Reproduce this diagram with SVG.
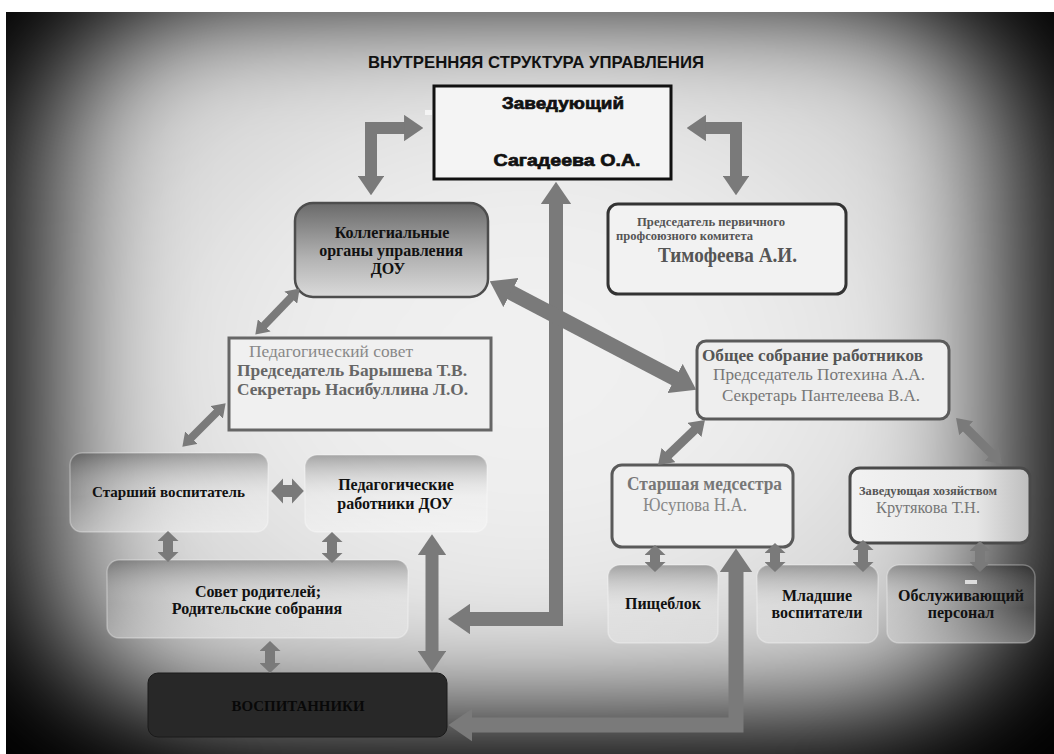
<svg xmlns="http://www.w3.org/2000/svg" width="1054" height="754" viewBox="0 0 1054 754">
<defs>
<clipPath id="area"><rect x="6" y="12" width="1048" height="742"/></clipPath>
<filter id="vblur" filterUnits="userSpaceOnUse" x="-300" y="-300" width="1700" height="1400">
<feGaussianBlur stdDeviation="68 55"/>
</filter>
<radialGradient id="inner" cx="0.5" cy="0.5" r="0.6">
<stop offset="0" stop-color="#f3f3f3"/>
<stop offset="0.45" stop-color="#ececec"/>
<stop offset="1" stop-color="#c8c8c8"/>
</radialGradient>
<linearGradient id="gBox" x1="0" y1="0" x2="0" y2="1">
<stop offset="0" stop-color="#000" stop-opacity="0.3"/>
<stop offset="0.55" stop-color="#fff" stop-opacity="0.1"/>
<stop offset="1" stop-color="#fff" stop-opacity="0.35"/>
</linearGradient>
<linearGradient id="gKol" x1="0" y1="0" x2="0" y2="1">
<stop offset="0" stop-color="#6a6a6a"/>
<stop offset="0.6" stop-color="#b4b4b4"/>
<stop offset="1" stop-color="#dadada"/>
</linearGradient>
<linearGradient id="gHoz" x1="0" y1="0" x2="1" y2="0">
<stop offset="0" stop-color="#f2f2f2"/>
<stop offset="0.7" stop-color="#e6e6e6"/>
<stop offset="1" stop-color="#bdbdbd"/>
</linearGradient>
<marker id="ah" viewBox="0 0 10 10" refX="1" refY="5" markerUnits="strokeWidth" markerWidth="1.6" markerHeight="2.2" orient="auto-start-reverse" preserveAspectRatio="none">
<path d="M0,0 L10,5 L0,10 z" fill="#7a7a7a"/>
</marker>
<marker id="ahs" viewBox="0 0 10 10" refX="1" refY="5" markerUnits="strokeWidth" markerWidth="1.0" markerHeight="2.1" orient="auto-start-reverse" preserveAspectRatio="none">
<path d="M0,0 L10,5 L0,10 z" fill="#7a7a7a"/>
</marker>
</defs>
<style>
.serif{font-family:"Liberation Serif","DejaVu Serif",serif}
.b{font-weight:bold}
.soft{fill:url(#gBox);stroke:#ffffff;stroke-opacity:0.3;stroke-width:1.5}
.wbox{stroke-width:3}
.arr{fill:none;stroke:#7a7a7a;stroke-linejoin:miter}
.heavy{font-family:"Liberation Sans",Arial,sans-serif;font-weight:bold;fill:#111;stroke:#111;stroke-width:0.7}
</style>
<rect x="0" y="0" width="1054" height="754" fill="#ffffff"/>
<g clip-path="url(#area)">
<rect x="6" y="12" width="1048" height="742" fill="#000"/>
<rect x="48" y="1" width="961" height="715" rx="160" fill="url(#inner)" filter="url(#vblur)"/>
</g>
<text x="536" y="68" text-anchor="middle" font-family="'Liberation Sans',Arial,sans-serif" font-weight="bold" font-size="17" textLength="336" lengthAdjust="spacingAndGlyphs" fill="#111">ВНУТРЕННЯЯ СТРУКТУРА УПРАВЛЕНИЯ</text>

<g id="zav">
<rect x="434" y="86" width="237" height="93" fill="#f4f4f4" stroke="#111" stroke-width="3"/>
<text class="heavy" x="563" y="109" text-anchor="middle" font-size="17" textLength="122" lengthAdjust="spacingAndGlyphs">Заведующий</text>
<text class="heavy" x="567" y="166" text-anchor="middle" font-size="17" textLength="147" lengthAdjust="spacingAndGlyphs">Сагадеева О.А.</text>
</g>
<rect x="425" y="110" width="7" height="5" fill="#f4f4f4"/>

<g id="kolleg">
<rect x="295" y="203" width="193" height="94" rx="18" fill="url(#gKol)" stroke="#4d4d4d" stroke-width="2.5"/>
<text class="serif b" x="392" y="238" text-anchor="middle" font-size="16" fill="#111">Коллегиальные</text>
<text class="serif b" x="391" y="256" text-anchor="middle" font-size="16" fill="#111">органы управления</text>
<text class="serif b" x="388" y="274" text-anchor="middle" font-size="16" fill="#111">ДОУ</text>
</g>

<g id="profkom">
<rect x="608" y="204" width="238" height="90" rx="10" fill="#f2f2f2" stroke="#333" class="wbox"/>
<text class="serif b" x="637" y="226" font-size="12.5" fill="#555" textLength="148" lengthAdjust="spacingAndGlyphs">Председатель первичного</text>
<text class="serif b" x="616" y="240" font-size="12.5" fill="#555" textLength="137" lengthAdjust="spacingAndGlyphs">профсоюзного комитета</text>
<text class="serif b" x="658" y="262" font-size="20" fill="#555" textLength="139" lengthAdjust="spacingAndGlyphs">Тимофеева А.И.</text>
</g>

<g id="pedsovet">
<rect x="229" y="338" width="262" height="92" fill="#f0f0f0" stroke="#666" class="wbox"/>
<text class="serif" x="249" y="357" font-size="17" fill="#888" textLength="164" lengthAdjust="spacingAndGlyphs">Педагогический совет</text>
<text class="serif b" x="237" y="376" font-size="17" fill="#666" textLength="230" lengthAdjust="spacingAndGlyphs">Председатель Барышева Т.В.</text>
<text class="serif b" x="237" y="395" font-size="17" fill="#666" textLength="231" lengthAdjust="spacingAndGlyphs">Секретарь Насибуллина Л.О.</text>
</g>

<g id="obshee">
<rect x="697" y="341" width="252" height="78" rx="9" fill="#eeeeee" stroke="#5a5a5a" class="wbox"/>
<text class="serif b" x="702" y="361" font-size="17" fill="#555" textLength="221" lengthAdjust="spacingAndGlyphs">Общее собрание работников</text>
<text class="serif" x="713" y="380" font-size="17" fill="#777" textLength="212" lengthAdjust="spacingAndGlyphs">Председатель Потехина А.А.</text>
<text class="serif" x="722" y="401" font-size="17" fill="#777" textLength="198" lengthAdjust="spacingAndGlyphs">Секретарь Пантелеева В.А.</text>
</g>

<g id="starsh">
<rect x="70" y="453" width="198" height="79" rx="12" class="soft"/>
<text class="serif b" x="92" y="497" font-size="15.5" fill="#111" textLength="153" lengthAdjust="spacingAndGlyphs">Старший воспитатель</text>
</g>

<g id="pedrab">
<rect x="305" y="455" width="182" height="77" rx="12" class="soft"/>
<text class="serif b" x="396" y="490" text-anchor="middle" font-size="16" fill="#111">Педагогические</text>
<text class="serif b" x="395" y="509" text-anchor="middle" font-size="16" fill="#111">работники ДОУ</text>
</g>

<g id="sovet">
<rect x="107" y="560" width="301" height="78" rx="12" class="soft"/>
<text class="serif b" x="258" y="597" text-anchor="middle" font-size="16" fill="#111">Совет родителей;</text>
<text class="serif b" x="257" y="614" text-anchor="middle" font-size="16" fill="#111">Родительские собрания</text>
</g>

<g id="vosp">
<rect x="148" y="673" width="299" height="64" rx="10" fill="#282828" stroke="#1a1a1a" stroke-width="1"/>
<text class="serif b" x="298" y="711" text-anchor="middle" font-size="15" fill="#080808" textLength="133" lengthAdjust="spacingAndGlyphs">ВОСПИТАННИКИ</text>
</g>

<g id="medsestra">
<rect x="612" y="465" width="181" height="82" rx="10" fill="#f0f0f0" stroke="#5a5a5a" class="wbox"/>
<text class="serif b" x="627" y="490" font-size="18" fill="#777" textLength="155" lengthAdjust="spacingAndGlyphs">Старшая медсестра</text>
<text class="serif" x="643" y="511" font-size="18" fill="#888" textLength="104" lengthAdjust="spacingAndGlyphs">Юсупова Н.А.</text>
</g>

<g id="hoz">
<rect x="850" y="468" width="180" height="75" rx="10" fill="url(#gHoz)" stroke="#4a4a4a" class="wbox"/>
<text class="serif b" x="859" y="495" font-size="12.5" fill="#555" textLength="138" lengthAdjust="spacingAndGlyphs">Заведующая хозяйством</text>
<text class="serif" x="876" y="513" font-size="17" fill="#777" textLength="104" lengthAdjust="spacingAndGlyphs">Крутякова Т.Н.</text>
</g>

<g id="pishe">
<rect x="608" y="565" width="110" height="78" rx="12" class="soft"/>
<text class="serif b" x="663" y="609" text-anchor="middle" font-size="16" fill="#111">Пищеблок</text>
</g>

<g id="mlad">
<rect x="757" y="565" width="121" height="78" rx="12" class="soft"/>
<text class="serif b" x="817" y="601" text-anchor="middle" font-size="16" fill="#111">Младшие</text>
<text class="serif b" x="817" y="618" text-anchor="middle" font-size="16" fill="#111">воспитатели</text>
</g>

<g id="obsl">
<rect x="887" y="565" width="148" height="78" rx="12" class="soft"/>
<rect x="965" y="580" width="12" height="4" fill="#dddddd"/>
<text class="serif b" x="961" y="601" text-anchor="middle" font-size="16" fill="#111">Обслуживающий</text>
<text class="serif b" x="961" y="618" text-anchor="middle" font-size="16" fill="#111">персонал</text>
</g>

<g id="connectors">
<path class="arr" d="M371,178 L371,128 L406,128" stroke-width="12" marker-start="url(#ah)" marker-end="url(#ah)"/>
<path class="arr" d="M704,128 L736,128 L736,178" stroke-width="12" marker-start="url(#ah)" marker-end="url(#ah)"/>
<path class="arr" d="M556,202 L556,619 L468,619" stroke-width="14" marker-start="url(#ah)" marker-end="url(#ah)"/>
<path class="arr" d="M736,570 L736,725 L470,725" stroke-width="15" marker-start="url(#ah)" marker-end="url(#ah)"/>
<path class="arr" d="M432,553 L432,653" stroke-width="13" marker-start="url(#ah)" marker-end="url(#ah)"/>
<path class="arr" d="M291.7,296.7 L263.3,326.3" stroke-width="8" marker-start="url(#ah)" marker-end="url(#ah)"/>
<path class="arr" d="M217.5,411.5 L190.5,438.5" stroke-width="8" marker-start="url(#ah)" marker-end="url(#ah)"/>
<path class="arr" d="M508.9,291.4 L677.1,379.6" stroke-width="15" marker-start="url(#ah)" marker-end="url(#ah)"/>
<path class="arr" d="M695.6,429 L667.4,456" stroke-width="9" marker-start="url(#ah)" marker-end="url(#ah)"/>
<path class="arr" d="M965.2,427.2 L992.8,454.8" stroke-width="9" marker-start="url(#ah)" marker-end="url(#ah)"/>
<path class="arr" d="M282,491 L293,491" stroke-width="12" marker-start="url(#ahs)" marker-end="url(#ahs)"/>
<path class="arr" d="M168,540 L168,553" stroke-width="10" marker-start="url(#ahs)" marker-end="url(#ahs)"/>
<path class="arr" d="M332,541 L332,554" stroke-width="10" marker-start="url(#ahs)" marker-end="url(#ahs)"/>
<path class="arr" d="M270,650 L270,664" stroke-width="10" marker-start="url(#ahs)" marker-end="url(#ahs)"/>
<path class="arr" d="M655,554 L655,563" stroke-width="10" marker-start="url(#ahs)" marker-end="url(#ahs)"/>
<path class="arr" d="M775,552 L775,563" stroke-width="10" marker-start="url(#ahs)" marker-end="url(#ahs)"/>
<path class="arr" d="M863,549 L863,563" stroke-width="10" marker-start="url(#ahs)" marker-end="url(#ahs)"/>
<path class="arr" d="M980,550 L980,563" stroke-width="10" marker-start="url(#ahs)" marker-end="url(#ahs)"/>
</g>
</svg>
